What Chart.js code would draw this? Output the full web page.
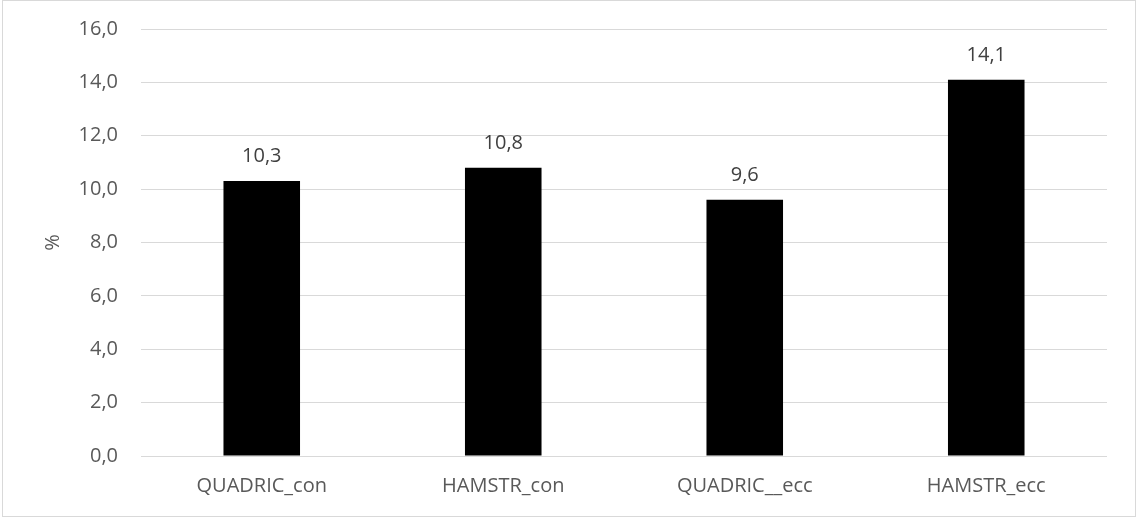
<!DOCTYPE html>
<html>
<head>
<meta charset="utf-8">
<script src="https://cdn.jsdelivr.net/npm/chart.js@4"></script>
<style>
  html, body { margin: 0; padding: 0; background: #ffffff; }
  #wrap { position: relative; width: 1136px; height: 517px; }
  #frame {
    position: absolute; left: 2px; top: 0; width: 1134px; height: 517px;
    box-sizing: border-box; border: 1px solid #d9d9d9; pointer-events: none;
  }
  canvas { position: absolute; left: 0; top: 0; }
</style>
</head>
<body>
<div id="wrap">
  <canvas id="c" width="1136" height="517"></canvas>
  <div id="frame"></div>
</div>
<script>
// Categories and values (percent)
const categories = ['QUADRIC_con', 'HAMSTR_con', 'QUADRIC__ecc', 'HAMSTR_ecc'];
const values = [10.3, 10.8, 9.6, 14.1];
const yTicks = [0, 2, 4, 6, 8, 10, 12, 14, 16];
const yTitle = '%';

const FONT = "'Open Sans', 'Noto Sans', sans-serif";
const FONT_SIZE = 20;
const fmt = v => v.toFixed(1).replace('.', ',');

// Draws the value above each bar
const valueLabels = {
  id: 'valueLabels',
  afterDatasetsDraw(chart) {
    const ctx = chart.ctx;
    const meta = chart.getDatasetMeta(0);
    ctx.save();
    ctx.font = `${FONT_SIZE}px ${FONT}`;
    ctx.fillStyle = '#404040';
    ctx.textAlign = 'center';
    ctx.textBaseline = 'alphabetic';
    meta.data.forEach((bar, i) => {
      ctx.fillText(fmt(values[i]), bar.x, bar.y - 19);
    });
    ctx.restore();
  }
};

new Chart(document.getElementById('c'), {
  type: 'bar',
  data: {
    labels: categories,
    datasets: [{
      data: values,
      backgroundColor: '#000000',
      borderWidth: 0,
      barPercentage: 0.317,
      categoryPercentage: 1.0
    }]
  },
  options: {
    responsive: false,
    animation: false,
    events: [],
    layout: { padding: { top: 29, right: 29, bottom: 17, left: 0 } },
    plugins: {
      legend: { display: false },
      tooltip: { enabled: false }
    },
    scales: {
      x: {
        grid: { display: false, drawTicks: false },
        border: { display: false },
        ticks: {
          color: '#595959',
          font: { family: FONT, size: FONT_SIZE },
          padding: 18,
          maxRotation: 0
        },
        afterFit(scale) {
          scale.height = 44;
          scale.paddingLeft = 0;
          scale.paddingRight = 0;
        }
      },
      y: {
        min: 0,
        max: 16,
        afterBuildTicks(scale) { scale.ticks = yTicks.map(v => ({ value: v })); },
        grid: { color: '#d9d9d9', lineWidth: 1, drawTicks: false },
        border: { display: false },
        ticks: {
          color: '#595959',
          font: { family: FONT, size: FONT_SIZE },
          padding: 23,
          callback: v => fmt(v)
        },
        title: {
          display: true,
          text: yTitle,
          color: '#595959',
          font: { family: FONT, size: FONT_SIZE },
          padding: { top: 41, bottom: 0 }
        },
        afterFit(scale) {
          scale.width = 141;
          scale.paddingTop = 0;
          scale.paddingBottom = 0;
        }
      }
    }
  },
  plugins: [valueLabels]
});
</script>
</body>
</html>
